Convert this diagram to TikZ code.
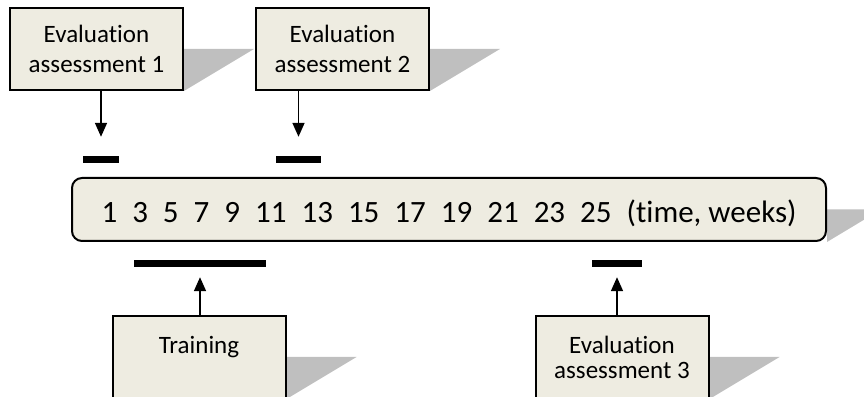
\documentclass[tikz,border=0pt]{standalone}
\usepackage{fontspec}
\setmainfont{Carlito}[Ligatures=NoCommon]
\usetikzlibrary{arrows.meta,positioning,backgrounds}
\definecolor{boxtan}{HTML}{EEECE1}
\definecolor{shadowgray}{HTML}{BFBFBF}
\newcommand{\gap}{\hspace{15pt}}
\newcommand{\castshadow}[2]{\fill[shadowgray] (#1.east) -- ++(#2,0) -- (#1.south east) -- cycle;}

\begin{document}
\begin{tikzpicture}[x=1pt, y=1pt, box/.style={rectangle, draw=black, line width=2pt, fill=boxtan, minimum width=173pt, minimum height=82pt, inner sep=0pt, align=center, font=\fontsize{25}{30}\selectfont}, lowbox/.style={box, font=\fontsize{25}{25}\selectfont}, bar/.style={rectangle, fill=black, minimum height=7pt, inner sep=0pt}, arr/.style={line width=1.7pt, -{Triangle[width=12pt,length=14pt]}}]

\useasboundingbox (0,0) rectangle (864,396);

\node[box, rounded corners=10pt, minimum width=754pt, minimum height=63pt, text height=33pt, text depth=6pt, font=\fontsize{31}{36}\selectfont] (weeks) at (449,186.5) {1\gap 3\gap 5\gap 7\gap 9\gap 11\gap 13\gap 15\gap 17\gap 19\gap 21\gap 23\gap 25\gap (time, weeks)};

\node[box] (eval1) at (96.5,347) {Evaluation\\assessment 1};

\node[box, right=71pt of eval1] (eval2) {Evaluation\\assessment 2};

\node[lowbox] (train) at (199,39) {Training\\~};

\node[lowbox, right=248pt of train] (eval3) {Evaluation\\assessment 3};

\node[bar, minimum width=36pt] (bar1) at (101,236.5) {};

\node[bar, minimum width=45pt] (bar2) at (298.5,236.5) {};

\node[bar, minimum width=132pt] (bar3) at (200,132.5) {};

\node[bar, minimum width=50pt] (bar4) at (617,132.5) {};

\draw[arr, shorten >=19pt] (bar1 |- eval1.south) -- (bar1.north);
\draw[arr, shorten >=19pt] (bar2 |- eval2.south) -- (bar2.north);
\draw[arr, shorten >=10pt] (bar3 |- train.north) -- (bar3.south);
\draw[arr, shorten >=10pt] (bar4 |- eval3.north) -- (bar4.south);

\begin{scope}[on background layer]
\castshadow{eval1}{70}
\castshadow{eval2}{70}
\castshadow{train}{70}
\castshadow{eval3}{70}
\castshadow{weeks}{54}
\end{scope}

\end{tikzpicture}
\end{document}
